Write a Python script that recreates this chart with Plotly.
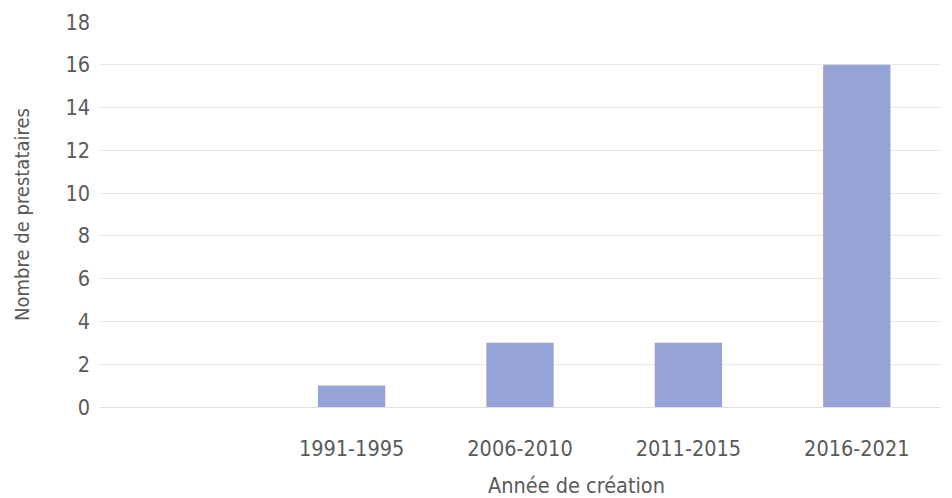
import plotly.graph_objects as go

categories = [" ", "1991-1995", "2006-2010", "2011-2015", "2016-2021"]
values = [None, 1, 3, 3, 16]
y_ticks = [0, 2, 4, 6, 8, 10, 12, 14, 16, 18]
x_title = "Année de création"
y_title = "Nombre de prestataires"

FONT = "DejaVu Sans Condensed, Liberation Sans Narrow, Roboto, sans-serif"
GRAY = "#5a5a5a"

fig = go.Figure(go.Bar(x=categories, y=values, marker=dict(color="#95a3d6", line=dict(width=0)),
                       width=0.4))
fig.update_layout(
    width=952, height=498,
    margin=dict(l=99, r=11, t=22, b=91),
    plot_bgcolor="white", paper_bgcolor="white",
    font=dict(family=FONT, color=GRAY, size=21),
    showlegend=False,
    bargap=0.6,
)
fig.update_xaxes(
    type="category", categoryorder="array", categoryarray=categories,
    showgrid=False, showline=False, ticks="", ticklabelstandoff=26,
    tickfont=dict(size=21.5, color=GRAY),
)
fig.update_yaxes(
    range=[0, 18], tickvals=y_ticks, showgrid=True, gridcolor="#e8e8e8", gridwidth=1,
    zeroline=True, zerolinecolor="#e0e0e0", zerolinewidth=1, showline=False,
    tickfont=dict(size=21.5, color=GRAY), ticks="", ticklabelstandoff=8,
    title=dict(text=y_title, font=dict(size=20, color=GRAY), standoff=30),
)
fig.add_annotation(
    text=x_title, xref="paper", yref="paper", x=0.567, y=-0.205,
    xanchor="center", yanchor="middle", showarrow=False,
    font=dict(size=21.5, color=GRAY),
)
fig.write_html("out.html")
